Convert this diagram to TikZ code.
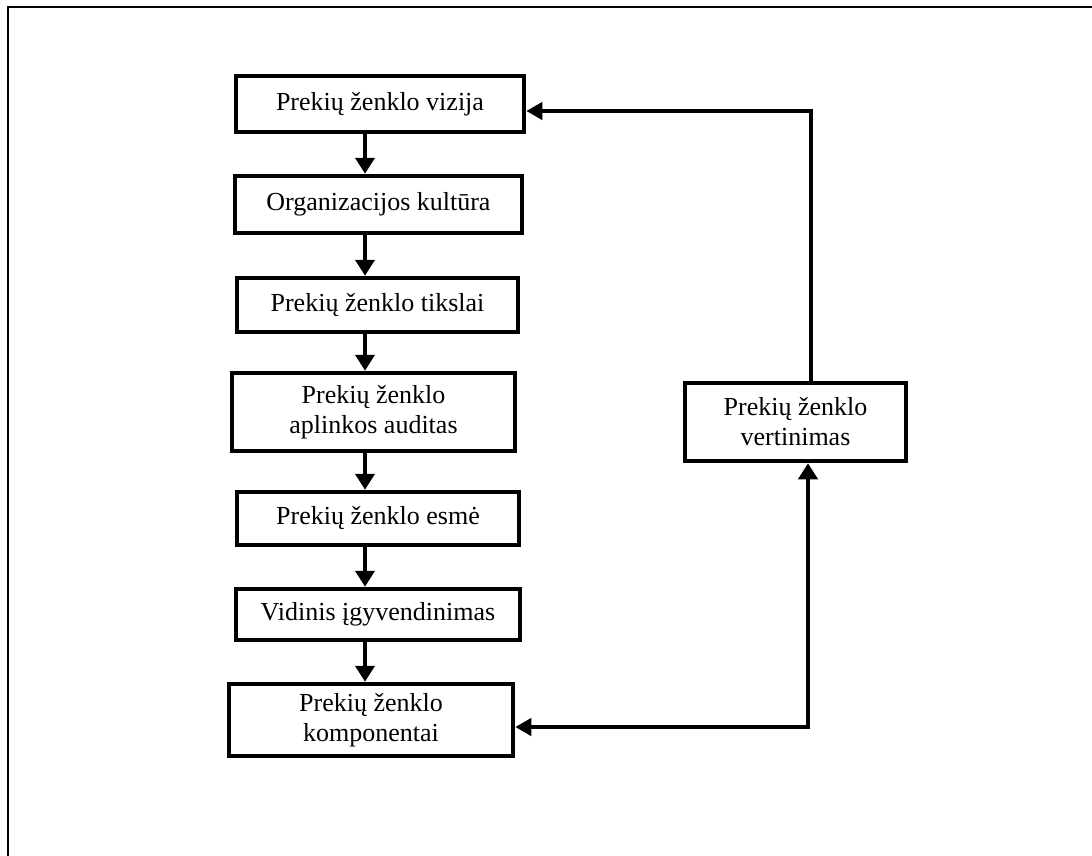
\documentclass[tikz,border=0pt]{standalone}
\usepackage{fontspec}
\setmainfont{Liberation Serif}
\usetikzlibrary{arrows.meta}
\begin{document}
\begin{tikzpicture}[x=1pt,y=-1pt,
  stage/.style={draw, line width=4.5pt, align=center, inner sep=0pt,
    font=\fontsize{26}{30}\selectfont},
  flow/.style={line width=4.5pt, -{Triangle[width=19pt,length=16pt]}},
  back/.style={line width=4.5pt, -{Triangle[width=17pt,length=16pt]}},
  both/.style={line width=4.5pt, {Triangle[width=17pt,length=16pt]}-{Triangle[width=19pt,length=16pt]}}]
\useasboundingbox (0,0) rectangle (1092,856);
% page frame
\draw[line width=2.5pt] (8,856) -- (8,7) -- (1092,7);

% main chain of stages
\node[stage, minimum width=288pt, minimum height=56pt] (b1) at (380,104) {Prekių ženklo vizija};
\node[stage, minimum width=287pt, minimum height=57pt] (b2) at (378.5,204.5) {Organizacijos kultūra};
\node[stage, minimum width=281pt, minimum height=54pt] (b3) at (377.5,305) {Prekių ženklo tikslai};
\node[stage, minimum width=283pt, minimum height=78pt] (b4) at (373.5,412) {Prekių ženklo\\aplinkos auditas};
\node[stage, minimum width=282pt, minimum height=53pt] (b5) at (378,518.5) {Prekių ženklo esmė};
\node[stage, minimum width=284pt, minimum height=51pt] (b6) at (378,614.5) {Vidinis įgyvendinimas};
\node[stage, minimum width=284pt, minimum height=72pt] (b7) at (371,720) {Prekių ženklo\\komponentai};

% evaluation stage
\node[stage, minimum width=221pt, minimum height=78pt] (ev) at (795.5,422) {Prekių ženklo\\vertinimas};

% vertical spine of the chain
\coordinate (spine) at (365,0);
\draw[flow] (b1.south -| spine) -- (b2.north -| spine);
\draw[flow] (b2.south -| spine) -- (b3.north -| spine);
\draw[flow] (b3.south -| spine) -- (b4.north -| spine);
\draw[flow] (b4.south -| spine) -- (b5.north -| spine);
\draw[flow] (b5.south -| spine) -- (b6.north -| spine);
\draw[flow] (b6.south -| spine) -- (b7.north -| spine);

% feedback loop
\coordinate (up) at (811,111);
\coordinate (dn) at (808,727);
\draw[back] (ev.north -| up) -- (up) -- (b1.east |- up);
\draw[both] (b7.east |- dn) -- (dn) -- (ev.south -| dn);
\end{tikzpicture}
\end{document}
